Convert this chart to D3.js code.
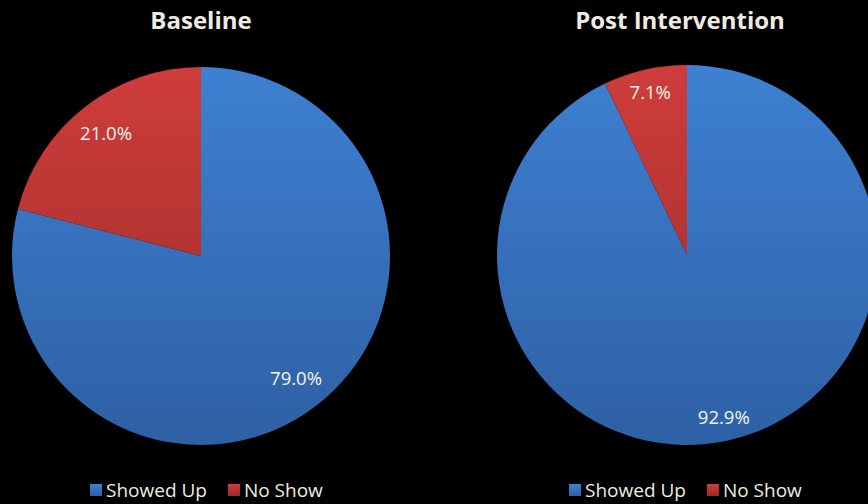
<!DOCTYPE html>
<html><head><meta charset="utf-8">
<script src="https://cdn.jsdelivr.net/npm/d3@7"></script>
<style>html,body{margin:0;padding:0;background:#000;overflow:hidden}</style>
</head><body>
<svg id="c" width="868" height="504"></svg>
<script>
const categories = ["Showed Up", "No Show"];
const chartTitles = ["Baseline", "Post Intervention"];
const baselineValues = [79.0, 21.0];
const postValues = [92.9, 7.1];
const colorsTop = ["#3e80d2", "#ce3d3b"];
const colorsBottom = ["#2e60a4", "#9a2a28"];

const svg = d3.select("#c");
const defs = svg.append("defs");
const font = "'Open Sans', Calibri, sans-serif";
const txt = "#eeece1";

const panels = [
  {title: chartTitles[0], values: baselineValues, cx: 201, cy: 256, r: 189, lr: 0.82, tx: 201, lx: 90},
  {title: chartTitles[1], values: postValues, cx: 687, cy: 255, r: 190, lr: 0.875, tx: 680, lx: 569}
];

const pie = d3.pie().sort(null).value(d => d);

categories.forEach((c, i) => {
  const g = defs.append("linearGradient").attr("id", `lg${i}`).attr("x1", 0).attr("x2", 0).attr("y1", 0).attr("y2", 1);
  g.append("stop").attr("offset", 0).attr("stop-color", colorsTop[i]);
  g.append("stop").attr("offset", 1).attr("stop-color", colorsBottom[i]);
});

panels.forEach((p, pi) => {
  categories.forEach((c, i) => {
    const g = defs.append("linearGradient").attr("id", `g${pi}_${i}`)
      .attr("gradientUnits", "userSpaceOnUse")
      .attr("x1", 0).attr("x2", 0).attr("y1", -p.r).attr("y2", p.r);
    g.append("stop").attr("offset", 0).attr("stop-color", colorsTop[i]);
    g.append("stop").attr("offset", 1).attr("stop-color", colorsBottom[i]);
  });
  const gp = svg.append("g").attr("transform", `translate(${p.cx},${p.cy})`);
  const arc = d3.arc().innerRadius(0).outerRadius(p.r);
  const labelArc = d3.arc().innerRadius(p.r * p.lr).outerRadius(p.r * p.lr);
  const arcs = pie(p.values);
  gp.selectAll("path").data(arcs).join("path")
    .attr("d", arc)
    .attr("fill", (d, i) => `url(#g${pi}_${i})`);
  gp.selectAll("text").data(arcs).join("text")
    .attr("transform", d => `translate(${labelArc.centroid(d)})`)
    .attr("text-anchor", "middle").attr("dy", "0.35em")
    .attr("font-family", font).attr("font-size", 18.5)
    .attr("fill", "#f4f4f0")
    .text(d => d.data.toFixed(1) + "%");

  svg.append("text").attr("x", p.tx).attr("y", 29)
    .attr("text-anchor", "middle").attr("font-family", font)
    .attr("font-weight", "bold").attr("font-size", 24)
    .attr("fill", txt).text(p.title);

  const lg = svg.append("g").attr("transform", `translate(${p.lx},484)`);
  let x = 0;
  categories.forEach((c, i) => {
    lg.append("rect").attr("x", x).attr("y", 0).attr("width", 12).attr("height", 12)
      .attr("fill", `url(#lg${i})`);
    const t = lg.append("text").attr("x", x + 16).attr("y", 13)
      .attr("font-family", font).attr("font-size", 19).attr("fill", txt).text(c);
    x += 16 + t.node().getComputedTextLength() + 21;
  });
});
</script>
</body></html>
